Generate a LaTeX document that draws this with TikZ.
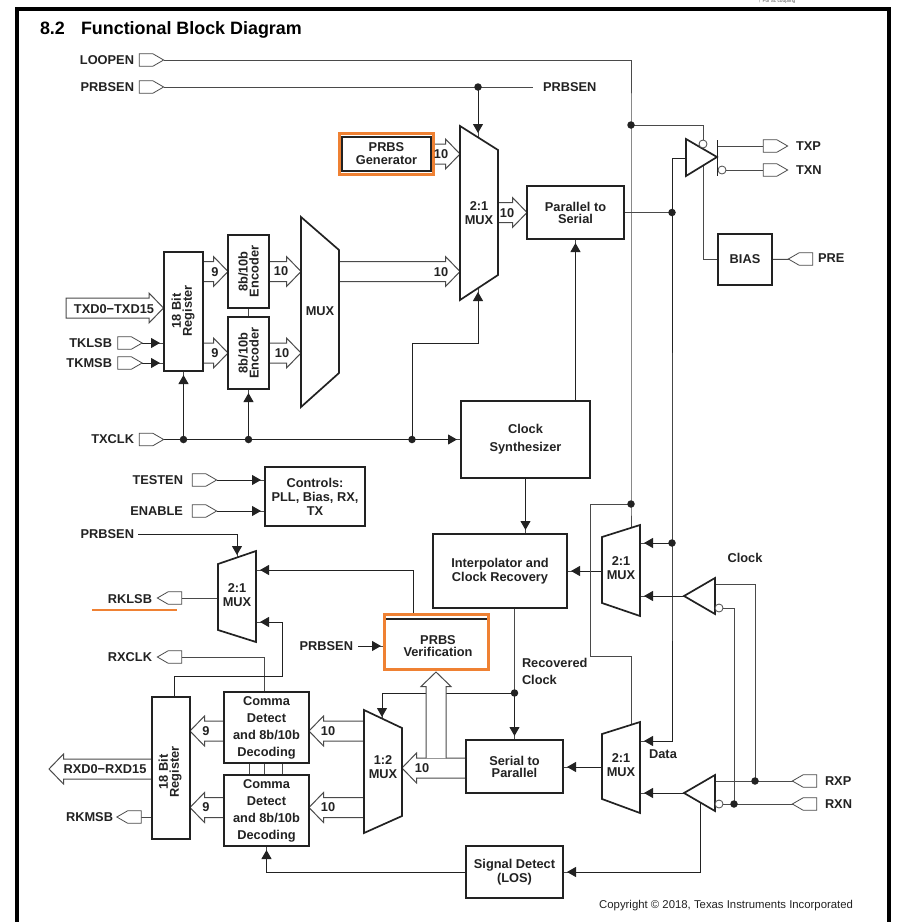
\documentclass[tikz,border=0pt]{standalone}
\usepackage{fontspec}
\setmainfont{Liberation Sans}
\usetikzlibrary{arrows.meta,calc,shapes.symbols}
\definecolor{ink}{HTML}{222222}
\definecolor{wirec}{HTML}{4A4A4A}
\definecolor{orng}{HTML}{EF8133}
\pgfdeclarelayer{wires}
\pgfdeclarelayer{buses}
\pgfsetlayers{wires,buses,main}
\newcommand\ld[1]{\fontsize{12.8}{#1}\selectfont\bfseries}
\tikzset{
  every node/.style={inner sep=0pt,outer sep=0pt,text=ink,font=\ld{14}},
  blk/.style={draw=ink,line width=1.7pt,fill=white,align=center},
  wire/.style={draw=wirec,line width=1pt},
  flow/.style={wire,postaction={draw=ink,-{Triangle[length=9pt,width=10pt]},shorten >=4pt}},
  dot/.style={circle,fill=ink,minimum size=7.5pt},
  bub/.style={circle,draw=wirec,line width=.8pt,fill=white,minimum size=8pt},
  pinbase/.style={signal,signal from=nowhere,signal pointer angle=60,draw=wirec,line width=.8pt,fill=white,minimum width=24.5pt,minimum height=12.5pt},
  pinr/.style={pinbase,signal to=east,xshift=-5pt},
  pinl/.style={pinbase,signal to=west,xshift=5pt},
  busl/.style={draw=wirec,line width=1pt,fill=white},
  muxs/.style={draw=ink,line width=1.7pt,fill=white,line join=miter},
  tris/.style={draw=ink,line width=1.7pt,fill=white,line join=miter},
  halo/.style={draw=orng,line width=2.6pt},
}
% a box given by its corners
\newcommand\blockbox[6][]{\node[blk,minimum width={(#4-#2)*1pt},minimum height={(#5-#3)*1pt},#1] (#6) at ({(#2+#4)/2},{(#3+#5)/2}) {};}
% a hollow bus arrow from one coordinate to another
\newcommand\busar[2]{\begin{pgfonlayer}{buses}\draw[busl]
  ($(#1)!10pt!90:(#2)$) -- ($(#2)!14.5pt!(#1)!10pt!90:(#2)$) -- ($(#2)!14.5pt!(#1)!15pt!90:(#2)$) -- (#2)
  -- ($(#2)!14.5pt!(#1)!15pt!-90:(#2)$) -- ($(#2)!14.5pt!(#1)!10pt!-90:(#2)$) -- ($(#1)!10pt!-90:(#2)$);\end{pgfonlayer}}
\newcommand\busclosed[2]{\begin{pgfonlayer}{buses}\draw[busl]
  ($(#1)!10pt!90:(#2)$) -- ($(#2)!14.5pt!(#1)!10pt!90:(#2)$) -- ($(#2)!14.5pt!(#1)!15pt!90:(#2)$) -- (#2)
  -- ($(#2)!14.5pt!(#1)!15pt!-90:(#2)$) -- ($(#2)!14.5pt!(#1)!10pt!-90:(#2)$) -- ($(#1)!10pt!-90:(#2)$) -- cycle;\end{pgfonlayer}}
\begin{document}
\begin{tikzpicture}[x=1pt,y=-1pt]
\useasboundingbox (0,0) rectangle (897,922);
\begin{pgfonlayer}{wires}\fill[white] (0,0) rectangle (897,922);\end{pgfonlayer}
% frame, open at the bottom
\draw[black,line width=4pt,line join=miter] (17,924) -- (17,8.5) -- (889,8.5) -- (889,924);
\node[font=\fontsize{4.8}{5}\selectfont,text=black!65] (fn) at (777,0.8) {† For ac coupling};
% titles
\node[anchor=base west,font=\fontsize{17.9}{20}\selectfont\bfseries,text=black] (ttla) at (40,34) {8.2};
\node[anchor=base west,font=\fontsize{17.9}{20}\selectfont\bfseries,text=black] (ttlb) at (81,34) {Functional Block Diagram};

% --- boxes
\blockbox{342}{137}{431}{171}{gen}
\node[align=center,font=\ld{13}] (gent) at (gen) {PRBS\\Generator};
\blockbox{527}{186}{624}{239}{ptos}
\node[align=center,font=\ld{12}] (ptost) at (ptos) {Parallel to\\Serial};
\blockbox{718}{234}{772}{285}{bias}
\node (biast) at (bias) {BIAS};
\blockbox{164}{252}{203}{371}{regT}
\node[rotate=90,align=center,font=\ld{11}] (regTt) at (183,311) {18 Bit\\Register};
\blockbox{228}{235}{269}{308}{enca}
\node[rotate=90,align=center,font=\ld{11}] (encat) at (enca) {8b/10b\\Encoder};
\blockbox{228}{317}{269}{389}{encb}
\node[rotate=90,align=center,font=\ld{11}] (encbt) at (encb) {8b/10b\\Encoder};
\blockbox{461}{401}{590}{478}{synth}
\node[align=center,font=\ld{18}] (syntht) at (synth) {Clock\\Synthesizer};
\blockbox{265}{467}{365}{526}{ctl}
\node[align=center,font=\ld{14}] (ctlt) at (ctl) {Controls:\\PLL, Bias, RX,\\TX};
\blockbox{433}{534}{567}{608}{interp}
\node[align=center,font=\ld{14.5}] (interpt) at (interp) {Interpolator and\\Clock Recovery};
\node[fill=white,minimum width=104pt,minimum height=55pt] (pv) at (436.5,642) {};
\node[align=center,font=\ld{12}] (pvt) at (438,646) {PRBS\\Verification};
\blockbox{152}{697}{190}{839}{regR}
\node[rotate=90,align=center,font=\ld{11}] (regRt) at (170,772) {18 Bit\\Register};
\blockbox{224}{692}{309}{763}{cma}
\node[align=center,font=\ld{17}] (cmat) at (cma) {Comma\\Detect\\and 8b/10b\\Decoding};
\blockbox{224}{775}{309}{846}{cmb}
\node[align=center,font=\ld{17}] (cmbt) at (cmb) {Comma\\Detect\\and 8b/10b\\Decoding};
\blockbox{466}{740}{563}{793}{stop}
\node[align=center,font=\ld{12}] (stopt) at (stop) {Serial to\\Parallel};
\blockbox{466}{846}{563}{898}{sd}
\node[align=center,font=\ld{14}] (sdt) at (sd) {Signal Detect\\(LOS)};

% --- orange highlights
\draw[halo] (339.3,133.3) rectangle (433.7,174.7);
\draw[ink,line width=1.7pt] (386,619) -- (488,619);
\draw[halo] (384.3,614.3) rectangle (488.7,669.7);
\draw[orng,line width=2.6pt] (92,610) -- (177,610);

% --- multiplexers
\draw[muxs] (460,126) -- (498,150) -- (498,275) -- (460,300) -- cycle;
\node[align=center] (mmain) at (479,213) {2:1\\MUX};
\draw[muxs] (301,217) -- (339,250) -- (339,373) -- (301,407) -- cycle;
\node (msm) at (320,311) {MUX};
\draw[muxs] (602,537) -- (640,525) -- (640,616) -- (602,603) -- cycle;
\node[align=center] (mck) at (621,568) {2:1\\MUX};
\draw[muxs] (602,734) -- (640,722) -- (640,813) -- (602,799) -- cycle;
\node[align=center] (mdat) at (621,765.5) {2:1\\MUX};
\draw[muxs] (218,564) -- (256,551) -- (256,642) -- (218,630) -- cycle;
\node[align=center] (mls) at (237,595) {2:1\\MUX};
\draw[muxs] (364,710) -- (402,728) -- (402,816) -- (364,833) -- cycle;
\node[align=center] (msp) at (383,767.5) {1:2\\MUX};

% --- drivers
\draw[tris] (686,139) -- (717,157) -- (686,176) -- cycle;
\draw[tris] (684,596) -- (715,578) -- (715,614) -- cycle;
\draw[tris] (684,793) -- (715,775) -- (715,811) -- cycle;
\node[bub] (btx1) at (703,144) {};
\node[bub] (btx2) at (722,170) {};
\node[bub] (brx1) at (719,608) {};
\node[bub] (brx2) at (719,804) {};
\draw[ink,line width=1pt] (717,140) -- (717,176);

% --- pins
\node[pinr] (loopen) at (151,60) {};
\node[pinr] (prbsa) at (151,87) {};
\node[pinr] (tklsb) at (129.5,343) {};
\node[pinr] (tkmsb) at (129.5,363) {};
\node[pinr] (txclk) at (151,439.5) {};
\node[pinr] (testen) at (204,480) {};
\node[pinr] (enable) at (204,511) {};
\node[pinr] (txp) at (775,146) {};
\node[pinr] (txn) at (775,170) {};
\node[pinl] (pre) at (801,259) {};
\node[pinl] (rklsb) at (170,598) {};
\node[pinl] (rxclk) at (170,657) {};
\node[pinl] (rkmsb) at (129.5,817) {};
\node[pinl] (rxp) at (805,781) {};
\node[pinl] (rxn) at (805,804) {};

% --- labels
\node[anchor=east] (lloop) at (134,60) {LOOPEN};
\node[anchor=east] (lpa) at (134,87) {PRBSEN};
\node[anchor=west] (lpb) at (543,87) {PRBSEN};
\node[anchor=east] (ltkl) at (112,343) {TKLSB};
\node[anchor=east] (ltkm) at (112,363) {TKMSB};
\node[anchor=east] (ltxc) at (134,439.5) {TXCLK};
\node[anchor=east] (ltest) at (183,480) {TESTEN};
\node[anchor=east] (lenb) at (183,511) {ENABLE};
\node[anchor=east] (lpc) at (134,534) {PRBSEN};
\node[anchor=east] (lpd) at (353,646) {PRBSEN};
\node[anchor=east] (lrkl) at (152,599) {RKLSB};
\node[anchor=east] (lrxc) at (152,657) {RXCLK};
\node[anchor=east] (lrkm) at (113,817) {RKMSB};
\node[anchor=west] (ltxp) at (796,146) {TXP};
\node[anchor=west] (ltxn) at (796,170) {TXN};
\node[anchor=west] (lpre) at (818,258) {PRE};
\node[anchor=west] (lrxp) at (825,781) {RXP};
\node[anchor=west] (lrxn) at (825,804) {RXN};
\node (lclk) at (745,558) {Clock};
\node (ldat) at (663,754) {Data};
\node[anchor=west,align=left,font=\ld{17}] (lrec) at (522,671.5) {Recovered\\Clock};
\node[font=\fontsize{11.35}{13}\selectfont,anchor=east] (lcopy) at (853,906) {Copyright © 2018, Texas Instruments Incorporated};

% --- junctions
\node[dot] (dtx) at (631,125) {};
\node[dot] (drc) at (631,504) {};
\node[dot] (dpr) at (478,87) {};
\node[dot] (dser) at (672,212.5) {};
\node[dot] (dsel) at (672,543) {};
\node[dot] (dc1) at (183.5,439.5) {};
\node[dot] (dc2) at (248.5,439.5) {};
\node[dot] (dc3) at (412,439.5) {};
\node[dot] (drec) at (514.5,693) {};
\node[dot] (dp) at (755,781) {};
\node[dot] (dn) at (734,804) {};

% --- ports
\coordinate (mmainN) at (478,137);
\coordinate (mmainS) at (478,288);
\coordinate (mckN) at (631,528);
\coordinate (mdatN) at (631,725);
\coordinate (mspN) at (382,721);
\coordinate (mlsN) at (237,559);

% --- buses
\busar{gen.east}{460,154}
\busar{498,212.5}{ptos.west}
\busar{203,271.5}{enca.west}
\busar{203,353}{encb.west}
\busar{enca.east}{301,271.5}
\busar{encb.east}{301,353}
\busar{339,271.5}{460,271.5}
\busclosed{66,308}{163.5,308}
\busclosed{152,769}{49,769}
\busar{224,731}{190,731}
\busar{224,807.5}{190,807.5}
\busar{364,731}{309,731}
\busar{364,807.5}{309,807.5}
\busar{466,768}{402,768}
\busar{436,758}{436,672}
\node[font=\ld{14}] (b1) at (441,154) {10};
\node (b2) at (507,213) {10};
\node (b3) at (215,272) {9};
\node (b4) at (215,353) {9};
\node (b5) at (281,271) {10};
\node (b6) at (282,353) {10};
\node (b7) at (441,272) {10};
\node (b8) at (114,309) {TXD0−TXD15};
\node (b9) at (105,769) {RXD0−RXD15};
\node (b10) at (206,731) {9};
\node (b11) at (206,807.5) {9};
\node (b12) at (328,731) {10};
\node (b13) at (328,807.5) {10};
\node (b14) at (422,768) {10};

% --- connectors
\begin{pgfonlayer}{wires}
\draw[wire] (loopen.east) -| (dtx.center) -- (drc.center) -- (mckN);
\draw[wire] (dtx.center) -| (btx1.north);
\draw[wire] (prbsa.east) -- (533,87);
\draw[flow] (dpr.center) -- (mmainN);
\draw[wire] (ptos.east) -- (dser.center);
\draw[flow] (686,158) -- (672,158) -- (dsel.center) -- (672,741) -- (640,741);
\draw[flow] (dsel.center) -- (640,543);
\draw[wire] (717,146) -- (txp.west);
\draw[wire] (btx2.east) -- (txn.west);
\draw[wire] (703,166) |- (bias.west);
\draw[wire] (bias.east) -- (pre.east);
\draw[flow] (tklsb.east) -- (164,343);
\draw[flow] (tkmsb.east) -- (164,363);
\draw[flow] (txclk.east) -- (synth.west);
\draw[flow] (dc1.center) -- (regT.south);
\draw[flow] (dc2.center) -- (encb.south);
\draw[flow] (dc3.center) |- (478,343) -- (mmainS);
\draw[wire] (enca.south) -- (encb.north);
\draw[flow] (synth.north -| ptos.south) -- (ptos.south);
\draw[flow] (synth.south) -- (synth.south |- interp.north);
\draw[flow] (testen.east) -- (265,480);
\draw[flow] (enable.east) -- (265,511);
\draw[flow] (138,534) -- (237,534) -- (mlsN);
\draw[flow] (413,619) -- (413,570) -- (256,570);
\draw[wire] (rklsb.east) -- (218,598);
\draw[wire] (rxclk.east) -| (264,692);
\draw[flow] (174,697) |- (282,676) -- (282,622) -- (256,622);
\draw[wire] (rkmsb.east) -- (152,817);
\draw[wire] (249,763) -- (249,775);
\draw[wire] (264,763) -- (264,775);
\draw[wire] (282,763) -- (282,775);
\draw[flow] (602,571) -- (interp.east);
\draw[wire] (drc.center) -- (590,504) -- (590,656) -- (631,656) -- (mdatN);
\draw[flow] (684,596) -- (640,596);
\draw[wire] (715,584) -- (755,584) -- (dp.center);
\draw[wire] (brx1.east) -- (734,608) -- (dn.center);
\draw[flow] (684,793) -- (640,793);
\draw[wire] (rxp.east) -- (715,781);
\draw[wire] (rxn.east) -- (brx2.east);
\draw[flow] (700,803) |- (sd.east);
\draw[flow] (sd.west) -| (cmb.south);
\draw[wire] (514.5,608) -- (drec.center);
\draw[flow] (drec.center) -- (stop.north);
\draw[flow] (drec.center) -- (382,693) -- (mspN);
\draw[flow] (602,767) -- (stop.east |- 602,767);
\draw[flow] (358,646) -- (385,646);
\end{pgfonlayer}
\end{tikzpicture}
\end{document}
